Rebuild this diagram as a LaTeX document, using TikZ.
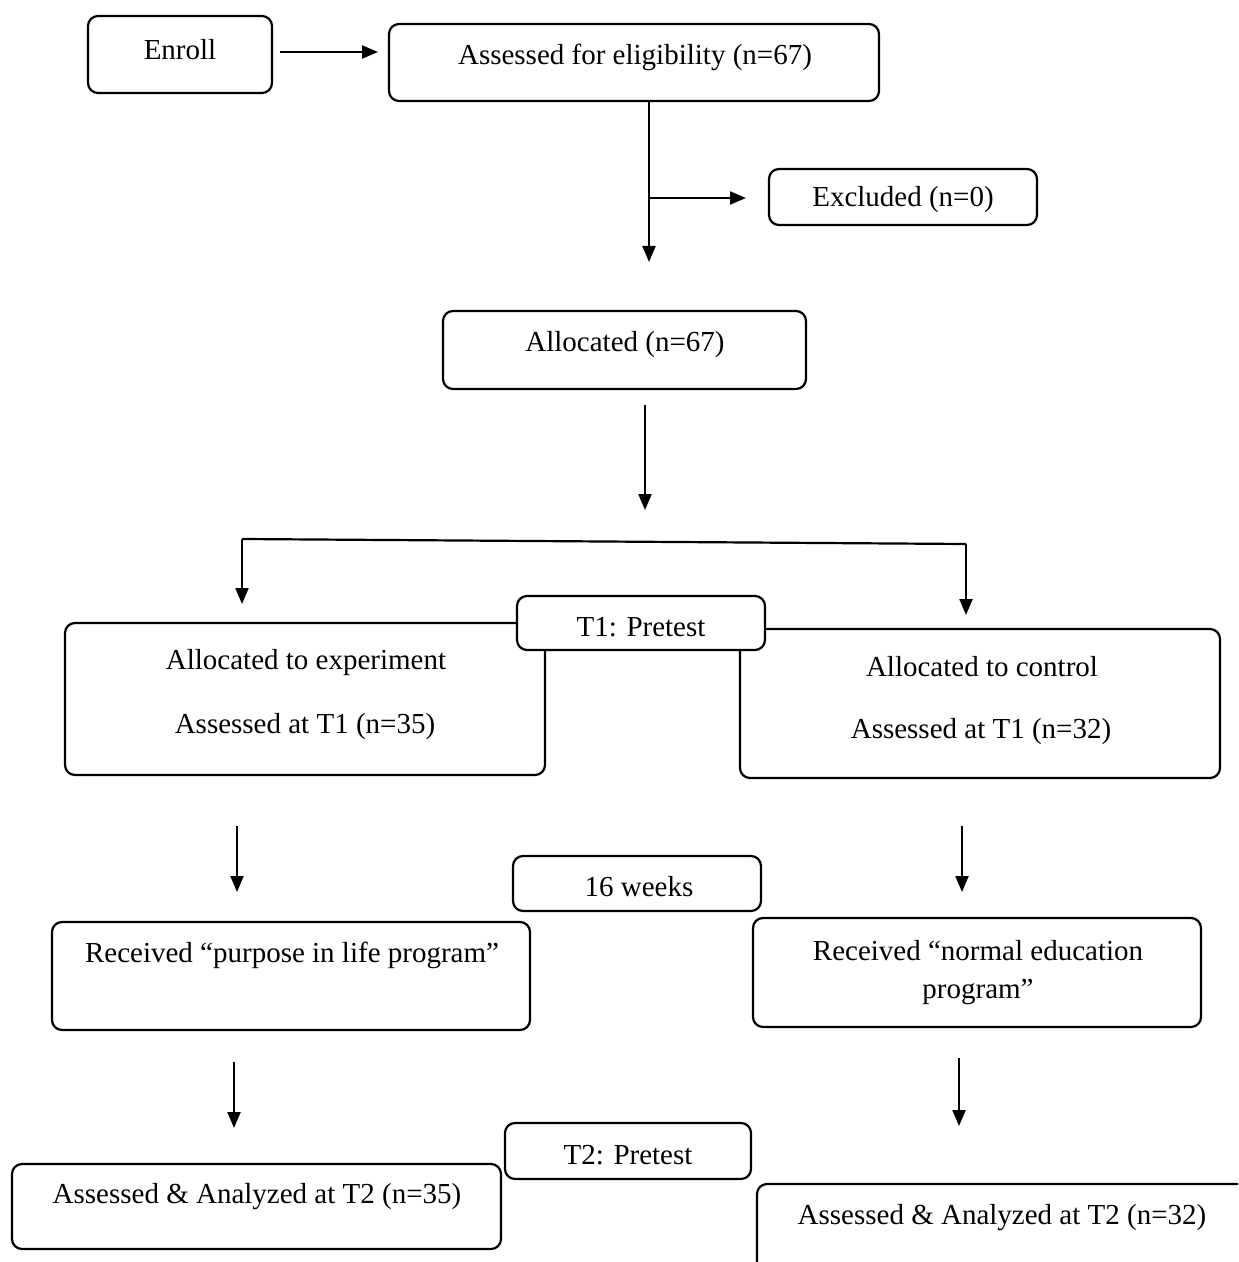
\documentclass[tikz,border=0pt]{standalone}
\usepackage{fontspec}
\setmainfont{Liberation Serif}
\usetikzlibrary{arrows.meta,fit}
\begin{document}
\begin{tikzpicture}[x=0.5pt,y=-0.5pt,
  box/.style={draw,line width=1.1pt,rounded corners=5pt,inner sep=0pt},
  wbox/.style={box,fill=white},
  txt/.style={inner sep=0pt,yshift=-1pt,font=\fontsize{14.5}{17}\selectfont},
  arr/.style={line width=1.1pt,-{Triangle[length=8pt,width=6.5pt]}},
  ln/.style={line width=1.1pt}]
\clip (0,0) rectangle (1238,1262);
\fill[white] (0,0) rectangle (1238,1262);
% boxes
\node[box,fit={(88,16) (272,93)}] (enroll) {};
\node[txt] (enrollT) at (180,48) {Enroll};
\node[box,fit={(389,24) (879,101)}] (assess) {};
\node[txt] (assessT) at (635,55) {Assessed for eligibility (n=67)};
\node[box,fit={(769,169) (1037,225)}] (excl) {};
\node[txt] (exclT) at (903,198) {Excluded (n=0)};
\node[box,fit={(443,311) (806,389)}] (alloc) {};
\node[txt] (allocT) at (625,343) {Allocated (n=67)};
\node[box,fit={(65,623) (545,775)}] (exper) {};
\node[txt] (experT1) at (306,661) {Allocated to experiment};
\node[txt] (experT2) at (305,725) {Assessed at T1 (n=35)};
\node[box,fit={(740,629) (1220,778)}] (ctrl) {};
\node[txt] (ctrlT1) at (982,665) {Allocated to control};
\node[txt] (ctrlT2) at (981,730) {Assessed at T1 (n=32)};
\node[wbox,fit={(517,596) (765,650)}] (tone) {};
\node[txt] (toneT) at (641,625) {T1: Pretest};
\node[box,fit={(513,856) (761,911)}] (weeks) {};
\node[txt] (weeksT) at (639,885) {16 weeks};
\node[box,fit={(52,922) (530,1030)}] (purp) {};
\node[txt] (purpT) at (292,953) {Received “purpose in life program”};
\node[box,fit={(753,918) (1201,1027)}] (norm) {};
\node[txt] (normT1) at (978,949) {Received “normal education};
\node[txt] (normT2) at (978,990) {program”};
\node[box,fit={(505,1123) (751,1179)}] (ttwo) {};
\node[txt] (ttwoT) at (628,1153) {T2: Pretest};
\node[box,fit={(12,1164) (501,1249)}] (finL) {};
\node[txt] (finLT) at (257,1195) {Assessed \& Analyzed at T2 (n=35)};
\node[box,fit={(757,1184) (1290,1300)}] (finR) {};
\node[txt] (finRT) at (1002,1216) {Assessed \& Analyzed at T2 (n=32)};
% connector coordinates
\coordinate (c1) at (280,52);
\coordinate (c2) at (378,52);
\coordinate (c3) at (649,101);
\coordinate (c4) at (649,262);
\coordinate (c5) at (649,198);
\coordinate (c6) at (746,198);
\coordinate (c7) at (645,405);
\coordinate (c8) at (645,510);
\coordinate (c9) at (242,539);
\coordinate (c10) at (966,544);
\coordinate (c11) at (242,604);
\coordinate (c12) at (966,615);
\coordinate (c13) at (237,826);
\coordinate (c14) at (237,892);
\coordinate (c15) at (962,826);
\coordinate (c16) at (962,892);
\coordinate (c17) at (234,1062);
\coordinate (c18) at (234,1128);
\coordinate (c19) at (959,1058);
\coordinate (c20) at (959,1126);
% connectors
\draw[arr] (c1) -- (c2);
\draw[arr] (c3) -- (c4);
\draw[arr] (c5) -- (c6);
\draw[arr] (c7) -- (c8);
\draw[ln] (c9) -- (c10);
\draw[arr] (c9) -- (c11);
\draw[arr] (c10) -- (c12);
\draw[arr] (c13) -- (c14);
\draw[arr] (c15) -- (c16);
\draw[arr] (c17) -- (c18);
\draw[arr] (c19) -- (c20);
\end{tikzpicture}
\end{document}
